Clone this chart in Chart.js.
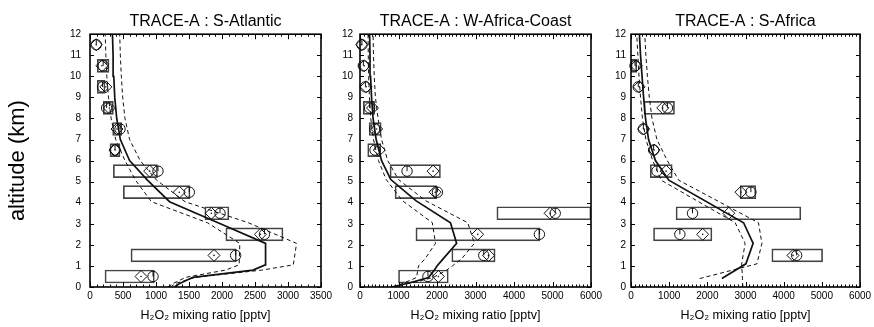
<!DOCTYPE html>
<html>
<head>
<meta charset="utf-8">
<title>TRACE-A H2O2 profiles</title>
<script src="https://cdn.jsdelivr.net/npm/chart.js@4.4.1/dist/chart.umd.min.js"></script>
<style>
  html, body { margin: 0; padding: 0; background: #fff; }
  #wrap { position: relative; width: 874px; height: 327px; overflow: hidden; }
  canvas { position: absolute; top: 0; }
</style>
</head>
<body>
<div id="wrap">
  <canvas id="atlantic" width="340" height="327" style="left:0px"></canvas>
  <canvas id="westAfrica" width="280" height="327" style="left:330px"></canvas>
  <canvas id="southAfrica" width="274" height="327" style="left:600px"></canvas>
</div>
<script>
// altitude bins of the aircraft data (km) and axis ticks
const altBins = [0.5, 1.5, 2.5, 3.5, 4.5, 5.5, 6.5, 7.5, 8.5, 9.5, 10.5, 11.5];
const altTicks = [0, 1, 2, 3, 4, 5, 6, 7, 8, 9, 10, 11, 12];
const atlXTicks = [0, 500, 1000, 1500, 2000, 2500, 3000, 3500];
const afrXTicks = [0, 1000, 2000, 3000, 4000, 5000, 6000];

// S-Atlantic: observed range (box), median (circle), mean (diamond)
const atlBoxLo  = [227, 621, 2058, 1740, 505, 354, 303, 343, 202, 111, 111, null];
const atlBoxHi  = [975, 2217, 2924, 2104, 1515, 1022, 455, 480, 354, 227, 288, null];
const atlMedian = [955, 2207, 2643, 1970, 1505, 1030, 379, 455, 252, 190, 200, 95];
const atlMean   = [773, 1879, 2582, 1838, 1353, 904, 379, 409, 293, 240, 180, 95];
// S-Atlantic model profile with its lower/upper envelope
const atlLevels  = [0, 0.17, 0.46, 0.8, 1.05, 2.07, 3.05, 4.05, 5.07, 6, 7, 8, 9, 10, 11, 12];
const atlModel   = [1280, 1360, 1560, 2470, 2655, 2660, 1940, 1205, 870, 600, 460, 405, 375, 360, 350, 340];
const atlModelLo = [1180, 1260, 1450, 2050, 2260, 2270, 1780, 930, 690, 530, 390, 320, 280, 255, 240, 230];
const atlModelHi = [1220, 1300, 1600, 2600, 3080, 3130, 2400, 1440, 1010, 760, 600, 530, 495, 475, 460, 450];

// W-Africa-Coast
const wacBoxLo  = [1000, 2384, 1452, 3555, 910, 780, 200, 240, 87, null, null, null];
const wacBoxHi  = [2293, 3510, 4672, 6000, 1994, 2090, 540, 550, 380, null, null, null];
const wacMedian = [1765, 3215, 4660, 5071, 2011, 1222, 390, 380, 250, 140, 87, 50];
const wacMean   = [2036, 3337, 3056, 4937, 1950, 1898, 500, 433, 325, 160, 110, 45];
const wacLevels  = [0, 0.2, 0.45, 0.8, 1.0, 1.36, 2.07, 3.05, 4.1, 5.1, 6, 7, 8, 9, 10, 11, 12];
const wacModel   = [820, 1300, 1780, 1930, 2000, 2170, 2510, 2350, 1450, 800, 560, 420, 340, 300, 275, 260, 250];
const wacModelLo = [850, 1150, 1470, 1500, 1520, 1700, 1960, 1880, 1100, 680, 480, 350, 280, 245, 225, 215, 210];
const wacModelHi = [850, 1350, 1900, 2250, 2400, 2650, 2970, 2800, 1700, 1000, 720, 560, 470, 400, 370, 350, 340];

// S-Africa
const safBoxLo  = [null, 3690, 590, 1180, 2860, 505, null, null, 340, null, 0, null];
const safBoxHi  = [null, 5020, 2120, 4450, 3270, 1080, null, null, 1140, null, 150, null];
const safMedian = [null, 4340, 1280, 1612, 3142, 680, 593, 323, 955, 190, 105, null];
const safMean   = [null, 4245, 1878, 2563, 2880, 920, 605, 331, 832, 215, 140, null];
const safLevels  = [0, 0.4, 1.1, 2.07, 3.05, 5.07, 6, 7, 8, 9, 10, 11, 12];
const safModel   = [null, 2380, 3010, 3200, 2950, 990, 640, 460, 380, 330, 290, 250, 220];
const safModelLo = [2930, 2920, 2900, 2990, 2730, 790, 570, 390, 300, 250, 210, 180, 150];
const safModelHi = [null, 1800, 3300, 3430, 3340, 1250, 950, 680, 550, 480, 430, 390, 360];

const FONT = "'Liberation Sans', Arial, 'DejaVu Sans', sans-serif";
const INK = '#111';

// turn value arrays into {x, y} points, skipping empty levels
function profile(levels, values) {
  const pts = [];
  levels.forEach((alt, i) => {
    if (values[i] !== null) pts.push({ x: values[i], y: alt });
  });
  return pts;
}

function boxes(lo, hi) {
  const out = [];
  altBins.forEach((alt, i) => {
    if (lo[i] !== null) out.push({ x: [lo[i], hi[i]], y: alt });
  });
  return out;
}

// closed frame with inward tick marks on all four sides
const frameTicks = {
  id: 'frameTicks',
  afterDatasetsDraw(chart, args, opts) {
    const { ctx, chartArea: { left, right, top, bottom }, scales: { x, y } } = chart;
    ctx.save();
    ctx.strokeStyle = '#000';
    ctx.lineWidth = 1;
    ctx.beginPath();
    for (let v = x.min; v <= x.max + 1e-6; v += opts.xMinor) {
      const px = Math.round(x.getPixelForValue(v)) + 0.5;
      const len = Math.round(v) % opts.xMajor === 0 ? 5 : 2.5;
      ctx.moveTo(px, bottom);
      ctx.lineTo(px, bottom - len);
      ctx.moveTo(px, top);
      ctx.lineTo(px, top + len);
    }
    for (let v = y.min; v <= y.max; v += opts.yStep) {
      const py = Math.round(y.getPixelForValue(v)) + 0.5;
      ctx.moveTo(left, py);
      ctx.lineTo(left + 4, py);
      ctx.moveTo(right, py);
      ctx.lineTo(right - 4, py);
    }
    ctx.stroke();
    ctx.lineWidth = 1.6;
    ctx.strokeRect(left, top, right - left, bottom - top);
    ctx.restore();
  }
};

function drawPanel(canvasId, p) {
  const markerBase = {
    showLine: false,
    clip: false,
    pointBorderColor: INK,
    pointBackgroundColor: 'rgba(0,0,0,0)',
    pointBorderWidth: 1
  };
  return new Chart(document.getElementById(canvasId), {
    type: 'scatter',
    data: {
      datasets: [
        {
          type: 'bar',
          indexAxis: 'y',
          data: boxes(p.boxLo, p.boxHi),
          barThickness: 13,
          borderColor: '#444',
          borderWidth: 1,
          borderSkipped: false,
          backgroundColor: 'rgba(0,0,0,0)',
          order: 7
        },
        {
          type: 'line',
          data: profile(p.levels, p.modelLo),
          borderColor: INK,
          borderWidth: 1,
          borderDash: [4, 3],
          pointRadius: 0,
          order: 6
        },
        {
          type: 'line',
          data: profile(p.levels, p.modelHi),
          borderColor: INK,
          borderWidth: 1,
          borderDash: [4, 3],
          pointRadius: 0,
          order: 5
        },
        {
          type: 'line',
          data: profile(p.levels, p.model),
          borderColor: INK,
          borderWidth: 1.7,
          pointRadius: 0,
          order: 4
        },
        Object.assign({}, markerBase, {
          data: profile(altBins, p.mean),
          pointStyle: 'rectRot',
          pointRadius: 6,
          order: 3
        }),
        Object.assign({}, markerBase, {
          data: profile(altBins, p.mean),
          pointStyle: 'circle',
          pointRadius: 0.8,
          pointBorderWidth: 0,
          pointBackgroundColor: INK,
          order: 2
        }),
        Object.assign({}, markerBase, {
          data: profile(altBins, p.median),
          pointStyle: 'circle',
          pointRadius: 5.2,
          order: 1
        }),
        Object.assign({}, markerBase, {
          data: profile(altBins, p.median),
          pointStyle: 'dash',
          pointRotation: -90,
          pointRadius: 5.2,
          order: 0
        })
      ]
    },
    options: {
      responsive: false,
      animation: false,
      events: [],
      layout: { padding: { left: 0, right: p.padRight, top: 0, bottom: 0 } },
      plugins: {
        legend: { display: false },
        tooltip: { enabled: false },
        title: {
          display: true,
          text: p.title,
          fullSize: false,
          color: '#000',
          font: { family: FONT, size: 16, weight: 'normal' },
          padding: { top: 12, bottom: 3 }
        },
        frameTicks: { xMinor: 100, xMajor: p.xTicks[1], yStep: 1 }
      },
      scales: {
        x: {
          type: 'linear',
          min: 0,
          max: p.xTicks[p.xTicks.length - 1],
          offset: false,
          grid: { display: false, drawTicks: false, offset: false },
          border: { display: false },
          afterBuildTicks: s => { s.ticks = p.xTicks.map(value => ({ value })); },
          afterFit: s => { s.height = 40; s.paddingLeft = 0; s.paddingRight = 0; },
          ticks: {
            padding: 3,
            color: '#000',
            autoSkip: false,
            maxRotation: 0,
            font: { family: FONT, size: 10 },
            callback: v => String(v)
          },
          title: {
            display: true,
            text: 'H₂O₂ mixing ratio [pptv]',
            color: '#000',
            font: { family: FONT, size: 12.5 },
            padding: { top: 0, bottom: 4 }
          }
        },
        y: {
          type: 'linear',
          min: 0,
          max: 12,
          offset: false,
          grid: { display: false, drawTicks: false, offset: false },
          border: { display: false },
          afterBuildTicks: s => { s.ticks = altTicks.map(value => ({ value })); },
          afterFit: s => { s.width = p.yWidth; s.paddingTop = 0; s.paddingBottom = 0; },
          ticks: {
            padding: p.yPad,
            color: '#000',
            autoSkip: false,
            font: { family: FONT, size: 10 },
            callback: v => String(v)
          },
          title: {
            display: !!p.yTitle,
            text: p.yTitle || '',
            color: '#000',
            font: { family: FONT, size: 22 },
            padding: { top: 5, bottom: 0 }
          }
        }
      }
    },
    plugins: [frameTicks]
  });
}

drawPanel('atlantic', {
  title: 'TRACE-A : S-Atlantic',
  yTitle: 'altitude (km)',
  xTicks: atlXTicks,
  yWidth: 90, yPad: 9, padRight: 19,
  boxLo: atlBoxLo, boxHi: atlBoxHi, median: atlMedian, mean: atlMean,
  levels: atlLevels, model: atlModel, modelLo: atlModelLo, modelHi: atlModelHi
});

drawPanel('westAfrica', {
  title: 'TRACE-A : W-Africa-Coast',
  xTicks: afrXTicks,
  yWidth: 30, yPad: 7, padRight: 19,
  boxLo: wacBoxLo, boxHi: wacBoxHi, median: wacMedian, mean: wacMean,
  levels: wacLevels, model: wacModel, modelLo: wacModelLo, modelHi: wacModelHi
});

drawPanel('southAfrica', {
  title: 'TRACE-A : S-Africa',
  xTicks: afrXTicks,
  yWidth: 31, yPad: 5, padRight: 14,
  boxLo: safBoxLo, boxHi: safBoxHi, median: safMedian, mean: safMean,
  levels: safLevels, model: safModel, modelLo: safModelLo, modelHi: safModelHi
});
</script>
</body>
</html>
